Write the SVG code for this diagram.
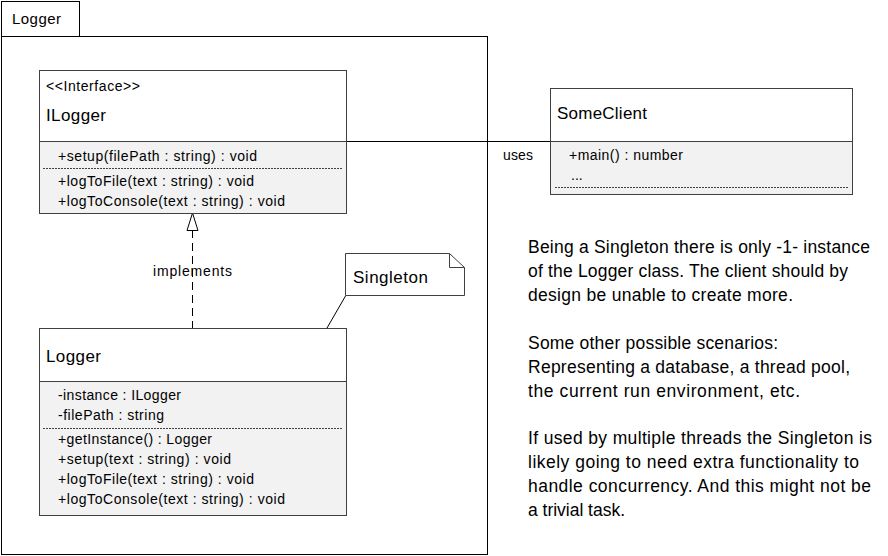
<svg xmlns="http://www.w3.org/2000/svg" width="888" height="556" viewBox="0 0 888 556">
<style>
text{font-family:"Liberation Sans",Arial,sans-serif;fill:#000}
.box{fill:#fff;stroke:#404040;stroke-width:1}
.comp{fill:#f2f2f2;stroke:#404040;stroke-width:1}
.line{stroke:#000;stroke-width:1;fill:none}
.dot{stroke:#404040;stroke-width:1;stroke-dasharray:2,1;fill:none}
.title{font-size:17px}
.mem{font-size:14px}
.small{font-size:14px}
.para{font-size:17.5px}
</style>
<rect width="888" height="556" fill="#fff"/>
<g id="package-Logger">
<rect x="1.5" y="1.5" width="78" height="35" fill="#fff" stroke="#000"/>
<rect x="1.5" y="36.5" width="486" height="518" fill="#fff" stroke="#000"/>
<text x="12" y="24" font-size="15" textLength="49">Logger</text>
</g>
<g id="connectors">
<line class="line" x1="346" y1="141.5" x2="551" y2="141.5"/>
<text x="503" y="160" class="small" textLength="30">uses</text>
<line class="line" x1="192.5" y1="230" x2="192.5" y2="328" stroke-dasharray="8,5"/>
<polygon points="192.5,213 187,230.5 198,230.5" fill="#fff" stroke="#000"/>
<text x="153" y="276" class="small" textLength="79">implements</text>
<line class="line" x1="345.5" y1="296" x2="327" y2="328"/>
</g>
<g id="ILogger">
<rect class="box" x="39.5" y="70.5" width="307" height="71"/>
<rect class="comp" x="39.5" y="141.5" width="307" height="72"/>
<line class="dot" x1="43" y1="168.5" x2="342" y2="168.5"/>
<text x="46" y="91" class="small" textLength="94">&lt;&lt;Interface&gt;&gt;</text>
<text x="46" y="121" class="title" textLength="60">ILogger</text>
<text x="58" y="161" class="mem" textLength="199">+setup(filePath : string) : void</text>
<text x="58" y="186" class="mem" textLength="196">+logToFile(text : string) : void</text>
<text x="58" y="206" class="mem" textLength="227">+logToConsole(text : string) : void</text>
</g>
<g id="SomeClient">
<rect class="box" x="550.5" y="88.5" width="302" height="53"/>
<rect class="comp" x="550.5" y="141.5" width="302" height="53"/>
<line class="dot" x1="555" y1="187.5" x2="849" y2="187.5"/>
<text x="557" y="119" class="title" textLength="90">SomeClient</text>
<text x="569" y="160" class="mem" textLength="114">+main() : number</text>
<text x="571" y="180" class="mem">...</text>
</g>
<g id="Logger">
<rect class="box" x="39.5" y="328.5" width="307" height="53"/>
<rect class="comp" x="39.5" y="381.5" width="307" height="134"/>
<line class="dot" x1="43" y1="428.5" x2="342" y2="428.5"/>
<text x="46" y="362" class="title" textLength="55">Logger</text>
<text x="58" y="400" class="mem" textLength="123">-instance : ILogger</text>
<text x="58" y="420" class="mem" textLength="106">-filePath : string</text>
<text x="58" y="444" class="mem" textLength="154">+getInstance() : Logger</text>
<text x="58" y="464" class="mem" textLength="173">+setup(text : string) : void</text>
<text x="58" y="484" class="mem" textLength="196">+logToFile(text : string) : void</text>
<text x="58" y="504" class="mem" textLength="227">+logToConsole(text : string) : void</text>
</g>
<g id="note-Singleton">
<path d="M345.5,253.5 H449.5 L464.5,267.5 V295.5 H345.5 Z" fill="#fff" stroke="#404040"/>
<path d="M449.5,253.5 V267.5 H464.5" fill="none" stroke="#404040"/>
<text x="353" y="283" class="title" textLength="75">Singleton</text>
</g>
<g id="description">
<text x="528" y="253" class="para" textLength="342">Being a Singleton there is only -1- instance</text>
<text x="528" y="277" class="para" textLength="320">of the Logger class. The client should by</text>
<text x="528" y="301" class="para" textLength="265">design be unable to create more.</text>
<text x="528" y="349" class="para" textLength="250">Some other possible scenarios:</text>
<text x="528" y="373" class="para" textLength="322">Representing a database, a thread pool,</text>
<text x="528" y="397" class="para" textLength="272">the current run environment, etc.</text>
<text x="528" y="444" class="para" textLength="344">If used by multiple threads the Singleton is</text>
<text x="528" y="468" class="para" textLength="331">likely going to need extra functionality to</text>
<text x="528" y="492" class="para" textLength="343">handle concurrency. And this might not be</text>
<text x="528" y="516" class="para" textLength="97">a trivial task.</text>
</g>
</svg>
